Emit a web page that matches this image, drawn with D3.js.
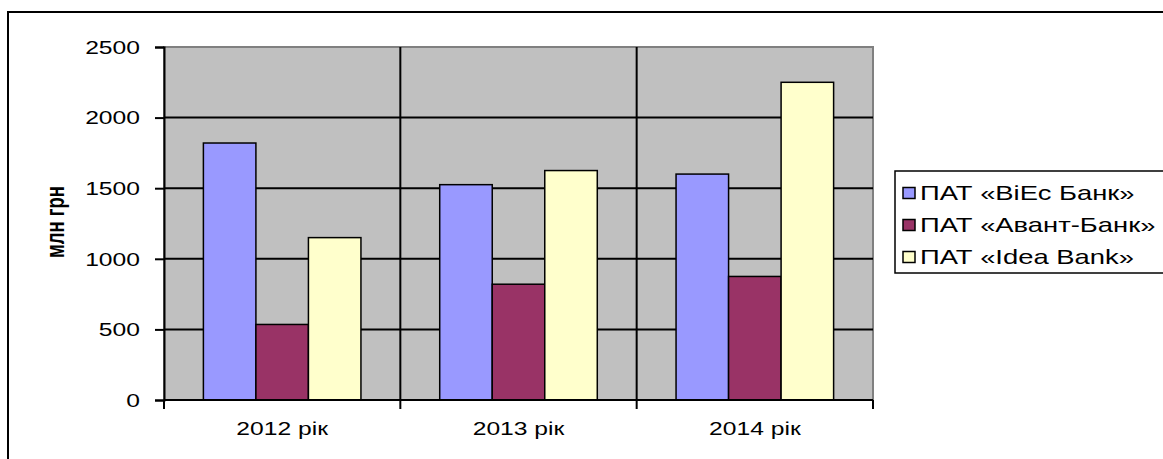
<!DOCTYPE html>
<html>
<head>
<meta charset="utf-8">
<script src="https://cdn.jsdelivr.net/npm/d3@7"></script>
<style>
  html, body { margin: 0; padding: 0; background: #fff; }
  svg { display: block; font-family: "Liberation Sans", Arial, sans-serif; }
</style>
</head>
<body>
<svg id="chart" width="1163" height="459"></svg>
<script>
// Chart data
const categories = ["2012 рік", "2013 рік", "2014 рік"];
const seriesNames = ["ПАТ «ВіЕс Банк»", "ПАТ «Авант-Банк»", "ПАТ «Idea Bank»"];
const viesBank = [1820, 1525, 1600];
const avantBank = [535, 820, 875];
const ideaBank = [1150, 1625, 2250];
const yTicks = [0, 500, 1000, 1500, 2000, 2500];
const yTitle = "млн грн";

const seriesValues = [viesBank, avantBank, ideaBank];
const colors = ["#9999ff", "#993366", "#ffffcc"];

// text is drawn slightly wide, as in the original chart export
const STRETCH = 1.37;

const svg = d3.select("#chart");

// outer chart frame
svg.append("rect")
  .attr("x", 8).attr("y", 12).attr("width", 1200).attr("height", 500)
  .attr("fill", "#fff").attr("stroke", "#000").attr("stroke-width", 2);

const plot = { left: 164, top: 47, right: 873, bottom: 400 };

const x = d3.scaleBand().domain(categories).range([plot.left, plot.right]);
const inner = d3.scaleBand().domain(d3.range(seriesNames.length))
  .range([0, x.bandwidth()]).paddingInner(0).paddingOuter(0.75);
const y = d3.scaleLinear().domain([0, 2500]).range([plot.bottom, plot.top]);

// plot background
svg.append("rect")
  .attr("x", plot.left).attr("y", plot.top)
  .attr("width", plot.right - plot.left).attr("height", plot.bottom - plot.top)
  .attr("fill", "#c0c0c0").attr("stroke", "#808080").attr("stroke-width", 2);

// horizontal gridlines
svg.append("g").selectAll("line")
  .data(yTicks.filter(t => t > 0 && t < 2500))
  .join("line")
  .attr("x1", plot.left).attr("x2", plot.right)
  .attr("y1", d => y(d)).attr("y2", d => y(d))
  .attr("stroke", "#000").attr("stroke-width", 2);

// vertical category gridlines
svg.append("g").selectAll("line")
  .data(categories.slice(1))
  .join("line")
  .attr("x1", d => x(d)).attr("x2", d => x(d))
  .attr("y1", plot.top).attr("y2", plot.bottom)
  .attr("stroke", "#000").attr("stroke-width", 2);

// bars
const groups = svg.append("g").selectAll("g")
  .data(seriesValues)
  .join("g")
  .attr("fill", (d, i) => colors[i]);

groups.each(function (vals, si) {
  d3.select(this).selectAll("rect")
    .data(vals)
    .join("rect")
    .attr("x", (v, ci) => x(categories[ci]) + inner(si))
    .attr("y", v => y(v))
    .attr("width", inner.bandwidth())
    .attr("height", v => y(0) - y(v))
    .attr("stroke", "#000").attr("stroke-width", 1.5);
});

// y axis
const yAxis = svg.append("g")
  .attr("transform", `translate(${plot.left},0)`)
  .call(d3.axisLeft(y).tickValues(yTicks).tickFormat(d3.format("d")).tickSize(9).tickPadding(0));
yAxis.select(".domain").attr("stroke", "#000").attr("stroke-width", 2);
yAxis.selectAll(".tick line").attr("stroke", "#000").attr("stroke-width", 2);
yAxis.selectAll(".tick text")
  .attr("x", 0).attr("dy", "0.35em")
  .attr("transform", `translate(-24,0) scale(${STRETCH},1)`)
  .attr("font-size", 18).attr("fill", "#000")
  .attr("font-family", "Liberation Sans, Arial, sans-serif");

// x axis: ticks at category boundaries, labels centered
const xAxisG = svg.append("g").attr("transform", `translate(0,${plot.bottom})`);
xAxisG.append("line")
  .attr("x1", plot.left).attr("x2", plot.right).attr("y1", 0).attr("y2", 0)
  .attr("stroke", "#000").attr("stroke-width", 2);
const boundaries = categories.map(c => x(c)).concat([x(categories[categories.length - 1]) + x.bandwidth()]);
xAxisG.selectAll("line.tk")
  .data(boundaries)
  .join("line").attr("class", "tk")
  .attr("x1", d => d).attr("x2", d => d).attr("y1", 0).attr("y2", 9)
  .attr("stroke", "#000").attr("stroke-width", 2);
xAxisG.selectAll("text")
  .data(categories)
  .join("text")
  .attr("transform", d => `translate(${x(d) + x.bandwidth() / 2},35) scale(${STRETCH},1)`)
  .attr("text-anchor", "middle")
  .attr("font-size", 18)
  .attr("fill", "#000")
  .text(d => d);

// y axis title
svg.append("text")
  .attr("transform", `translate(64,222) scale(${STRETCH},1) rotate(-90)`)
  .attr("text-anchor", "middle")
  .attr("font-size", 18.5)
  .attr("font-weight", "bold")
  .attr("fill", "#000")
  .text(yTitle);

// legend
const legend = svg.append("g");
legend.append("rect")
  .attr("x", 895).attr("y", 171).attr("width", 300).attr("height", 102)
  .attr("fill", "#fff").attr("stroke", "#000").attr("stroke-width", 1.5);
const rowY = d3.scalePoint().domain(d3.range(seriesNames.length)).range([200, 264]);
const items = legend.selectAll("g.item")
  .data(seriesNames)
  .join("g").attr("class", "item")
  .attr("transform", (d, i) => `translate(0,${rowY(i)})`);
items.append("rect")
  .attr("x", 903).attr("y", -12.5).attr("width", 12).attr("height", 11)
  .attr("fill", (d, i) => colors[i]).attr("stroke", "#000").attr("stroke-width", 1.5);
items.append("text")
  .attr("transform", `translate(920,0) scale(${STRETCH},1)`)
  .attr("font-size", 20).attr("fill", "#000")
  .text(d => d);
</script>
</body>
</html>
